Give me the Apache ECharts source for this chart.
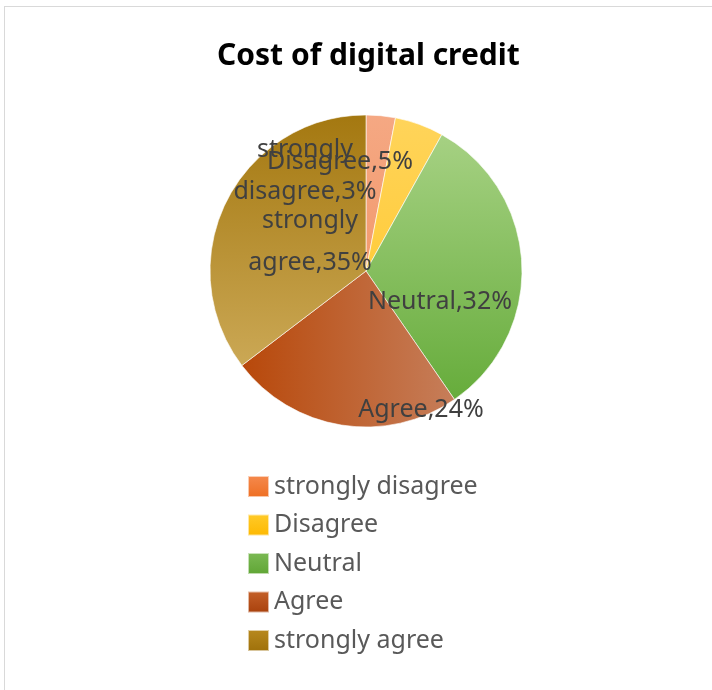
<!DOCTYPE html>
<html>
<head>
<meta charset="utf-8">
<script src="https://cdn.jsdelivr.net/npm/echarts@6/dist/echarts.min.js"></script>
<style>
  html, body { margin: 0; padding: 0; background: #fff; }
  #frame { position: absolute; left: 4px; top: 6px; width: 708px; height: 684px;
           border-left: 1px solid #d9d9d9; border-top: 1px solid #d9d9d9; }
  #chart { position: absolute; left: 0; top: 0; width: 712px; height: 690px; }
</style>
</head>
<body>
<div id="frame"></div>
<div id="chart"></div>
<script>
// categories and shares (percent)
var categories = ['strongly disagree', 'Disagree', 'Neutral', 'Agree', 'strongly agree'];
var shares = [3, 5, 32, 24, 35];

// pie geometry
var CX = 366, CY = 271, R = 156;

// where Excel dropped each data label, relative to the pie centre
var labelSpots = [[-61, -100], [-26, -109], [74, 31], [55, 139], [-56, -29]];

function grad(x2, y2, c1, c2) {
  return new echarts.graphic.LinearGradient(0, 0, x2, y2, [
    { offset: 0, color: c1 },
    { offset: 1, color: c2 }
  ]);
}

// slice fills (Office-style gradients)
var fills = [
  grad(0, 1, '#F5A883', '#F29A6E'),
  grad(0, 1, '#FFD45A', '#FFCC3C'),
  grad(0, 1, '#A6D183', '#66AC3B'),
  grad(1, 0, '#B8480A', '#C67E5A'),
  grad(0, 1, '#A47810', '#CBA855')
];

// legend swatches are a little stronger than the slices
var swatches = [
  grad(0, 1, '#F58A4E', '#EE6E22'),
  grad(0, 1, '#FFCB2A', '#FDB800'),
  grad(0, 1, '#7CBA55', '#5FA534'),
  grad(0, 1, '#C5612A', '#A8400C'),
  grad(0, 1, '#B8891E', '#9E700A')
];

var pieData = [];
for (var i = 0; i < categories.length; i++) {
  pieData.push({
    name: categories[i],
    value: shares[i],
    itemStyle: { color: fills[i] }
  });
}

var legendData = [];
for (var j = 0; j < categories.length; j++) {
  legendData.push({ name: categories[j], itemStyle: { color: swatches[j] } });
}

var myChart = echarts.init(document.getElementById('chart'), null, { renderer: 'canvas' });

var option = {
  animation: false,
  title: {
    text: 'Cost of digital credit',
    left: 212,
    top: 36,
    textStyle: {
      fontFamily: 'Noto Sans',
      fontWeight: 'bold',
      fontSize: 30,
      color: '#000'
    }
  },
  legend: {
    orient: 'vertical',
    left: 247,
    top: 474,
    padding: 0,
    itemWidth: 21,
    itemHeight: 21,
    itemGap: 13.5,
    icon: 'rect',
    data: legendData,
    textStyle: {
      fontFamily: 'Noto Sans',
      fontSize: 25,
      lineHeight: 25,
      color: '#595959'
    }
  },
  series: [
    {
      type: 'pie',
      center: [CX, CY],
      radius: [0, R],
      startAngle: 90,
      clockwise: true,
      data: pieData,
      itemStyle: { borderColor: 'rgba(255,255,255,0.6)', borderWidth: 1 },
      label: {
        show: true,
        position: 'inside',
        formatter: function (p) {
          var name = p.name;
          if (name.indexOf('strongly ') === 0) {
            return 'strongly\n' + name.substring(9) + ',' + p.value + '%';
          }
          return name + ',' + p.value + '%';
        },
        fontFamily: 'Noto Sans',
        fontSize: 25,
        lineHeight: 42,
        color: '#404040'
      },
      labelLine: { show: false },
      labelLayout: function (params) {
        var s = labelSpots[params.dataIndex];
        return { x: CX + s[0], y: CY + s[1], align: 'center', verticalAlign: 'middle' };
      },
      emphasis: { disabled: true }
    }
  ]
};

if (option && typeof option === 'object') {
  myChart.setOption(option, true);
}
</script>
</body>
</html>
